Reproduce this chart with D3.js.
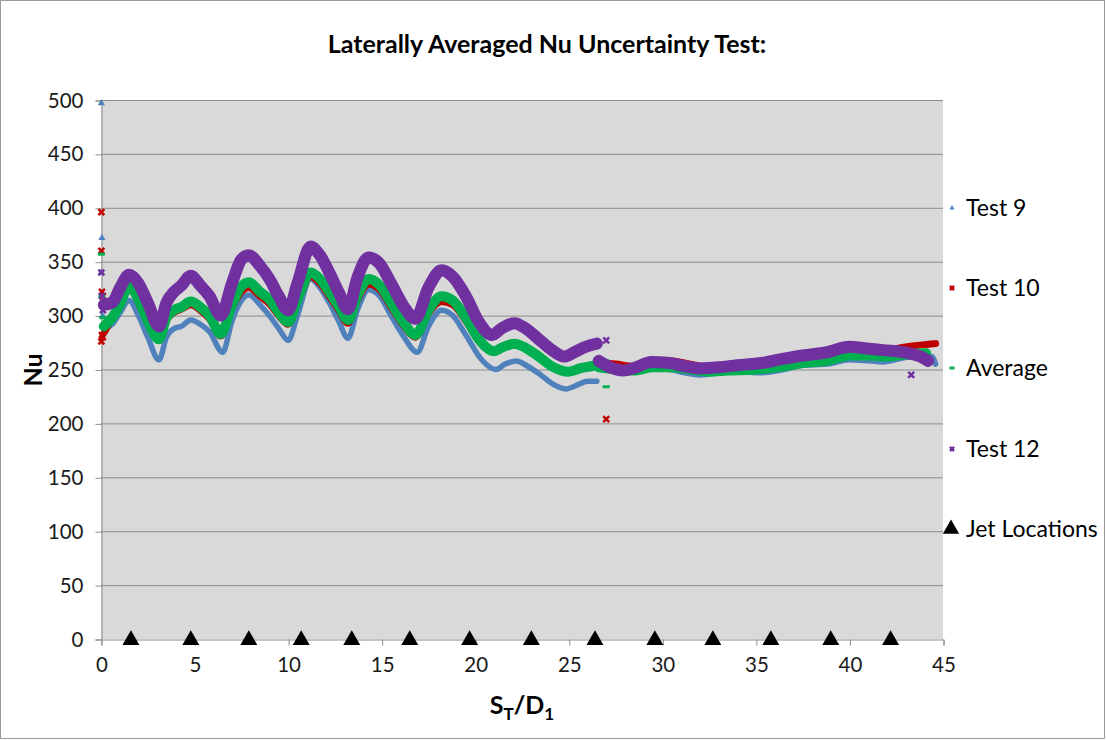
<!DOCTYPE html>
<meta charset="utf-8">
<script src="https://d3js.org/d3.v7.min.js"></script>
<style>
  body { margin: 0; background: #fff; }
  text { font-family: Lato, "Open Sans", sans-serif; }
</style>
<div id="chart"></div>
<script>
  // ---- data ----
  const xTicks = [0, 5, 10, 15, 20, 25, 30, 35, 40, 45];
  const yTicks = [0, 50, 100, 150, 200, 250, 300, 350, 400, 450, 500];
  const jetLocations = [1.6, 4.8, 7.9, 10.7, 13.4, 16.5, 19.7, 23.0, 26.4, 29.6, 32.7, 35.8, 39.0, 42.2];

  // each series: two runs (before / after the gap at ~26.5)
  const test9 = [
    [[0.15,287],[0.6,292],[1.0,302],[1.5,314],[2.0,300],[2.5,280],[3.1,259],[3.5,280],[3.9,288],[4.3,290],[4.8,296],[5.3,292],[5.8,285],[6.5,266],[7.0,295],[7.5,314],[7.9,319],[8.5,310],[9.0,300],[9.5,288],[10.0,277],[10.5,300],[11.2,334],[11.7,326],[12.2,312],[12.7,295],[13.2,279],[13.7,305],[14.3,324],[14.9,318],[15.5,300],[16.2,280],[16.9,266],[17.5,290],[18.2,305],[18.8,300],[19.5,282],[20.3,260],[21.1,250],[21.6,255],[22.2,258],[22.8,253],[23.5,245],[24.2,236],[24.85,232],[25.5,236],[26.0,239],[26.5,239]],
    [[26.6,253],[27.5,249],[28.5,248],[29.5,251],[30.4,250],[31.2,247],[32.0,245],[33.0,247],[34.0,248],[35.3,247],[36.5,250],[37.5,254],[38.8,255],[40.0,259],[41.0,258],[41.8,257],[43.0,261],[44.0,262],[44.4,262],[44.6,255]]
  ];
  const test10 = [
    [[0.2,285],[0.6,298],[1.0,308],[1.5,329],[2.0,312],[2.5,293],[3.1,277],[3.5,296],[3.9,303],[4.3,306],[4.8,310],[5.3,305],[5.8,297],[6.4,281],[7.0,307],[7.5,322],[7.9,326],[8.5,318],[9.0,311],[9.5,300],[10.0,292],[10.5,312],[11.2,336],[11.7,330],[12.2,318],[12.7,305],[13.2,293],[13.7,314],[14.3,329],[14.9,324],[15.5,308],[16.2,290],[16.8,280],[17.5,302],[18.2,313],[18.8,310],[19.5,295],[20.2,276],[21.0,266],[21.5,270],[22.1,273],[22.7,269],[23.4,261],[24.1,252],[25.0,248],[25.6,251],[26.2,254],[26.5,256]],
    [[26.6,256],[27.5,255],[28.5,253],[29.5,257],[30.5,258],[31.5,255],[32.5,252],[33.5,253],[35.0,253],[36.5,257],[37.5,260],[38.8,263],[40.0,265],[41.0,267],[42.0,268],[43.0,271],[44.0,273],[44.6,274]]
  ];
  const average = [
    [[0.15,290],[0.6,298],[1.0,310],[1.5,327],[2.0,315],[2.5,295],[3.1,278],[3.5,298],[3.9,305],[4.3,308],[4.8,313],[5.3,308],[5.8,300],[6.4,283],[7.0,310],[7.5,327],[7.9,331],[8.5,322],[9.0,315],[9.5,303],[10.0,294],[10.5,315],[11.2,340],[11.7,334],[12.2,322],[12.7,309],[13.2,296],[13.7,318],[14.3,334],[14.9,328],[15.5,312],[16.2,293],[16.8,282],[17.5,305],[18.2,318],[18.8,314],[19.5,298],[20.2,278],[21.0,267],[21.5,271],[22.1,274],[22.7,270],[23.4,262],[24.1,253],[25.0,248],[25.6,251],[26.2,253],[26.5,254]],
    [[26.6,252],[27.5,250],[28.5,249],[29.5,252],[30.5,252],[31.5,250],[32.5,248],[33.5,249],[35.0,250],[36.5,253],[37.5,256],[38.8,258],[40.0,263],[41.0,263],[42.0,262],[43.0,264],[44.1,265]]
  ];
  const test12 = [
    [[0.15,310],[0.6,312],[1.0,325],[1.5,338],[2.0,330],[2.5,312],[3.1,290],[3.5,312],[3.9,322],[4.3,328],[4.8,337],[5.3,328],[5.8,318],[6.4,300],[7.0,330],[7.5,352],[7.9,356],[8.5,346],[9.0,334],[9.5,318],[10.0,305],[10.5,330],[11.2,364],[11.7,356],[12.2,340],[12.7,322],[13.2,306],[13.7,335],[14.3,354],[14.9,348],[15.5,330],[16.2,308],[16.8,297],[17.5,326],[18.2,342],[18.8,336],[19.5,318],[20.2,294],[20.9,282],[21.4,288],[22.1,293],[22.7,288],[23.4,278],[24.1,268],[24.75,262],[25.3,266],[25.9,271],[26.5,274]],
    [[26.6,258],[27.2,252],[27.9,249],[28.6,252],[29.4,257],[30.4,256],[31.2,253],[32.0,251],[33.0,252],[34.0,254],[35.3,256],[36.5,260],[37.5,263],[38.8,266],[40.0,271],[40.7,270],[41.8,268],[43.2,265],[43.8,262],[44.2,258]]
  ];

  // stray points that sit off the bands
  const test9Stray = [[0.02,497],[0.05,372],[0.02,340],[0.08,300]];
  const test10Stray = [[0.02,396],[0.02,360],[0.05,322],[0.1,318],[0.05,282],[0.02,276],[0.1,280],[27.0,204]];
  const averageStray = [[0.02,357],[0.05,318],[0.1,298],[27.0,258],[27.0,234]];
  const test12Stray = [[0.02,340],[0.05,318],[0.1,305],[27.0,277],[43.3,245]];

  const seriesNames = ["Test 9", "Test 10", "Average", "Test 12", "Jet Locations"];

  // ---- layout ----
  const W = 1107, H = 740;
  const margin = { top: 100, right: 164, bottom: 101, left: 101 },
    width = W - margin.left - margin.right,
    height = H - margin.top - margin.bottom;

  const svg = d3.select("#chart")
    .append("svg")
    .attr("width", W)
    .attr("height", H);

  // chart area border
  svg.append("rect")
    .attr("x", 0.5).attr("y", 0.5)
    .attr("width", W - 3).attr("height", H - 2)
    .attr("fill", "#fff")
    .attr("stroke", "#9a9a9a");

  svg.append("text")
    .attr("x", 547).attr("y", 53)
    .attr("text-anchor", "middle")
    .attr("font-size", 25)
    .attr("font-weight", "bold")
    .text("Laterally Averaged Nu Uncertainty Test:");

  const g = svg.append("g")
    .attr("transform", `translate(${margin.left},${margin.top})`);

  const x = d3.scaleLinear().domain([0, 45]).range([0, width]);
  const y = d3.scaleLinear().domain([0, 500]).range([height, 0]);

  g.append("rect")
    .attr("width", width).attr("height", height)
    .attr("fill", "#d9d9d9");

  // gridlines
  g.selectAll(".grid")
    .data(yTicks.filter(d => d > 0))
    .join("line")
    .attr("x1", 0).attr("x2", width)
    .attr("y1", d => y(d) + 0.5).attr("y2", d => y(d) + 0.5)
    .attr("stroke", "#8c8c8c");

  // axes
  const yAxis = g.append("g")
    .attr("transform", "translate(0.5,0.5)")
    .call(d3.axisLeft(y).tickValues(yTicks).tickSize(6).tickPadding(12));
  const xAxis = g.append("g")
    .attr("transform", `translate(0.5,${height + 0.5})`)
    .call(d3.axisBottom(x).tickValues(xTicks).tickSize(6).tickPadding(9));
  [yAxis, xAxis].forEach(a => {
    a.select(".domain").attr("stroke", "#8c8c8c");
    a.selectAll(".tick line").attr("stroke", "#8c8c8c");
    a.selectAll(".tick text")
      .attr("font-size", 20.5)
      .attr("fill", "#1a1a1a")
      .style("font-family", "Lato, 'Open Sans', sans-serif");
  });
  xAxis.selectAll(".tick text").attr("dy", "0.85em");

  // axis titles
  svg.append("text")
    .attr("transform", "translate(42,370) rotate(-90)")
    .attr("text-anchor", "middle")
    .attr("font-size", 25)
    .attr("font-weight", "bold")
    .text("Nu");

  const xt = svg.append("text")
    .attr("x", 522).attr("y", 714)
    .attr("text-anchor", "middle")
    .attr("font-size", 25)
    .attr("font-weight", "bold");
  xt.append("tspan").text("S");
  xt.append("tspan").attr("font-size", 17).attr("dy", 6).text("T");
  xt.append("tspan").attr("dy", -6).text("/D");
  xt.append("tspan").attr("font-size", 17).attr("dy", 6).text("1");

  // ---- series ----
  const line = d3.line()
    .curve(d3.curveMonotoneX)
    .x(d => x(d[0]))
    .y(d => y(d[1]));

  const series = [
    { name: "Test 9", runs: test9, stray: test9Stray, color: "#4f81bd", w: 5.5, mark: "tri" },
    { name: "Test 10", runs: test10, stray: test10Stray, color: "#c00000", w: 7, mark: "x" },
    { name: "Average", runs: average, stray: averageStray, color: "#00b050", w: 10, mark: "dash" },
    { name: "Test 12", runs: test12, stray: test12Stray, color: "#7030a0", w: 12, mark: "x" }
  ];

  function marker(sel, kind, color, s) {
    if (kind === "tri") {
      sel.append("path")
        .attr("d", d3.symbol(d3.symbolTriangle, s * s * 0.45)())
        .attr("fill", color);
    } else if (kind === "dash") {
      sel.append("rect")
        .attr("x", -s / 2).attr("y", -1.5)
        .attr("width", s).attr("height", 3)
        .attr("fill", color);
    } else {
      sel.append("path")
        .attr("d", d3.symbol(d3.symbolX, s * s * 0.5)())
        .attr("stroke", color)
        .attr("stroke-width", 2.5)
        .attr("fill", "none");
    }
  }

  series.forEach(s => {
    g.append("g")
      .selectAll("path")
      .data(s.runs)
      .join("path")
      .attr("d", line)
      .attr("fill", "none")
      .attr("stroke", s.color)
      .attr("stroke-width", s.w)
      .attr("stroke-linecap", "round")
      .attr("stroke-linejoin", "round");

    g.append("g")
      .selectAll("g")
      .data(s.stray)
      .join("g")
      .attr("transform", d => `translate(${x(d[0])},${y(d[1])})`)
      .each(function () { marker(d3.select(this), s.mark, s.color, 7); });
  });

  // jet locations
  g.append("g")
    .selectAll("path")
    .data(jetLocations)
    .join("path")
    .attr("transform", d => `translate(${x(d)},${y(0) + 1})`)
    .attr("d", d3.symbol(d3.symbolTriangle, 125)())
    .attr("fill", "#000");

  // ---- legend ----
  const legendY = [208, 288, 368, 449, 529];
  const leg = svg.append("g");
  seriesNames.forEach((name, i) => {
    const row = leg.append("g").attr("transform", `translate(952,${legendY[i]})`);
    if (i < 4) {
      marker(row, series[i].mark, series[i].color, 5);
    } else {
      row.append("path")
        .attr("transform", "translate(-1,0)")
        .attr("d", d3.symbol(d3.symbolTriangle, 115)())
        .attr("fill", "#000");
    }
    row.append("text")
      .attr("x", 14).attr("dy", "0.35em")
      .attr("font-size", 23)
      .attr("fill", "#000")
      .text(name);
  });
</script>
